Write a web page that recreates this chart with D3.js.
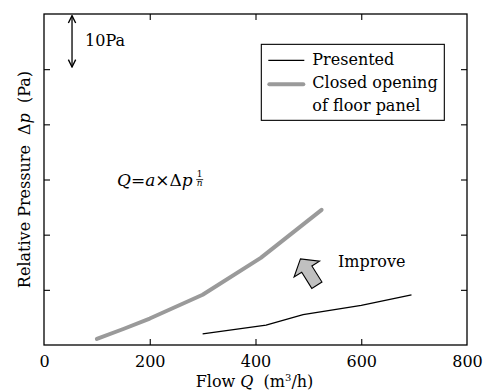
<!DOCTYPE html>
<html>
<head>
<meta charset="utf-8">
<script src="https://cdn.jsdelivr.net/npm/d3@7"></script>
<style>
  body { margin: 0; background: #fff; }
  svg text { font-family: "DejaVu Serif", "Liberation Serif", serif; }
</style>
</head>
<body>
<svg width="487" height="392"></svg>
<script>
// data
const flowClosed = [100, 150, 200, 300, 410, 525];
const presClosed = [1.1, 2.9, 4.8, 9.1, 15.8, 24.5];
const flowPresented = [300, 420, 490, 600, 695];
const presPresented = [2.0, 3.6, 5.5, 7.2, 9.1];
const xTicks = [0, 200, 400, 600, 800];
const yTicks = [10, 20, 30, 40, 50];
const legendLabels = ["Presented", "Closed opening", "of floor panel"];

const svg = d3.select("svg"),
      margin = {top: 14, right: 20, bottom: 47, left: 44},
      width = 487 - margin.left - margin.right,
      height = 392 - margin.top - margin.bottom,
      g = svg.append("g").attr("transform", `translate(${margin.left},${margin.top})`);

const x = d3.scaleLinear().domain([0, 800]).range([0, width]);
const y = d3.scaleLinear().domain([0, 60]).range([height, 0]);

// axes, ticks pointing inward
const bottom = g.append("g")
  .attr("transform", `translate(0,${height})`)
  .call(d3.axisBottom(x).tickValues(xTicks).tickSizeInner(-6).tickSizeOuter(0).tickPadding(11));
bottom.selectAll("text").style("font-size", "16px").attr("fill", "#000")
  .style("font-family", "DejaVu Serif");
bottom.selectAll(".tick line").filter(d => d === 0 || d === 800).remove();

g.append("g")
  .call(d3.axisTop(x).tickValues([200, 400, 600]).tickSizeInner(-6).tickSizeOuter(0).tickFormat(""));

g.append("g")
  .call(d3.axisLeft(y).tickValues(yTicks).tickSizeInner(-6).tickSizeOuter(0).tickFormat(""));

g.append("g")
  .attr("transform", `translate(${width},0)`)
  .call(d3.axisRight(y).tickValues(yTicks).tickSizeInner(-6).tickSizeOuter(0).tickFormat(""));

g.selectAll(".domain").remove();
g.selectAll(".tick line").attr("stroke", "#000").attr("stroke-width", 1.1);

// frame
g.append("rect")
  .attr("width", width).attr("height", height)
  .attr("fill", "none").attr("stroke", "#000").attr("stroke-width", 1.3);

// lines
const closed = flowClosed.map((q, i) => ({q, p: presClosed[i]}));
const presented = flowPresented.map((q, i) => ({q, p: presPresented[i]}));
const line = d3.line().x(d => x(d.q)).y(d => y(d.p));

g.append("path").datum(closed)
  .attr("fill", "none").attr("stroke", "#9a9a9a").attr("stroke-width", 4)
  .attr("stroke-linecap", "round").attr("stroke-linejoin", "round")
  .attr("d", line);

g.append("path").datum(presented)
  .attr("fill", "none").attr("stroke", "#000").attr("stroke-width", 1.3)
  .attr("d", line);

// axis titles
const xl = svg.append("text")
  .attr("x", margin.left + width / 2 - 1).attr("y", 387)
  .attr("text-anchor", "middle").style("font-size", "16px");
xl.append("tspan").text("Flow ");
xl.append("tspan").style("font-style", "italic").text("Q");
xl.append("tspan").text("\u00a0\u00a0(m");
xl.append("tspan").attr("dy", -6).style("font-size", "10px").text("3");
xl.append("tspan").attr("dy", 6).text("/h)");

const yl = svg.append("text")
  .attr("transform", `translate(30,${margin.top + height / 2}) rotate(-90)`)
  .attr("text-anchor", "middle").style("font-size", "16px");
yl.append("tspan").text("Relative Pressure\u00a0\u00a0Δ");
yl.append("tspan").style("font-style", "italic").text("p");
yl.append("tspan").text("\u00a0\u00a0(Pa)");

// 10Pa scale marker
const ax = x(53);
svg.append("defs").append("marker")
  .attr("id", "head").attr("viewBox", "0 0 10 10").attr("refX", 9).attr("refY", 5)
  .attr("markerWidth", 7).attr("markerHeight", 7).attr("orient", "auto-start-reverse")
  .append("path").attr("d", "M1,1 L9,5 L1,9").attr("fill", "none").attr("stroke", "#000").attr("stroke-width", 1.5);
g.append("line")
  .attr("x1", ax).attr("x2", ax).attr("y1", y(59.7)).attr("y2", y(50.4))
  .attr("stroke", "#000").attr("stroke-width", 1.3)
  .attr("marker-start", "url(#head)").attr("marker-end", "url(#head)");
g.append("text").attr("x", ax + 13).attr("y", y(54.2))
  .style("font-size", "16px").text("10Pa");

// formula
const fx = x(138), fy = y(28.8);
const ft = g.append("text").attr("x", fx).attr("y", fy).style("font-size", "17px");
ft.append("tspan").style("font-style", "italic").text("Q");
ft.append("tspan").text("=");
ft.append("tspan").style("font-style", "italic").text("a");
ft.append("tspan").text("×Δ");
ft.append("tspan").style("font-style", "italic").text("p");
const fw = ft.node().getComputedTextLength();
const fr = fx + fw + 7;
g.append("text").attr("x", fr).attr("y", fy - 9).attr("text-anchor", "middle")
  .style("font-size", "9px").text("1");
g.append("line").attr("x1", fr - 3.5).attr("x2", fr + 3.5).attr("y1", fy - 6.5).attr("y2", fy - 6.5)
  .attr("stroke", "#000").attr("stroke-width", 0.8);
g.append("text").attr("x", fr).attr("y", fy).attr("text-anchor", "middle")
  .style("font-size", "9px").style("font-style", "italic").text("n");

// improve arrow
const arrowShape = [[0, 0], [-15, 12], [-6, 12], [-6, 31], [6, 31], [6, 12], [15, 12]];
g.append("path")
  .attr("transform", `translate(${x(485)},${y(15.6)}) rotate(-32)`)
  .attr("d", d3.line()(arrowShape) + "Z")
  .attr("fill", "#c0c0c0").attr("stroke", "#000").attr("stroke-width", 1.1)
  .attr("stroke-linejoin", "miter");
g.append("text").attr("x", x(556)).attr("y", y(14.2))
  .style("font-size", "16px").text("Improve");

// legend
const lg = g.append("g").attr("transform", `translate(${x(411)},${y(54.5)})`);
lg.append("rect").attr("width", 183).attr("height", 76)
  .attr("fill", "#fff").attr("stroke", "#000").attr("stroke-width", 1.1);
lg.append("line").attr("x1", 7).attr("x2", 43).attr("y1", 16).attr("y2", 16)
  .attr("stroke", "#000").attr("stroke-width", 1.3);
lg.append("line").attr("x1", 8).attr("x2", 42).attr("y1", 40).attr("y2", 40)
  .attr("stroke", "#9a9a9a").attr("stroke-width", 4).attr("stroke-linecap", "round");
lg.selectAll(".lab").data(legendLabels).enter().append("text")
  .attr("class", "lab")
  .attr("x", 51).attr("y", (d, i) => 21 + i * 23)
  .style("font-size", "16px").text(d => d);
</script>
</body>
</html>
